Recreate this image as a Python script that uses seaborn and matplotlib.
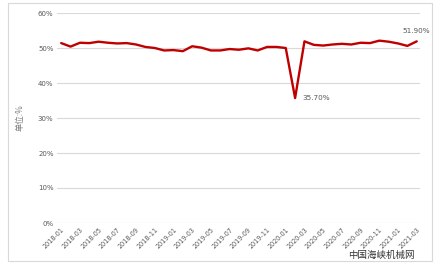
import matplotlib
matplotlib.use("Agg")
import matplotlib.pyplot as plt
import seaborn as sns
import pandas as pd
from matplotlib.patches import Rectangle

months = pd.date_range("2018-01", "2021-03", freq="MS").strftime("%Y-%m").tolist()
values = [51.4, 50.4, 51.5, 51.4, 51.8, 51.5, 51.3, 51.4, 51.0, 50.3,
          50.0, 49.3, 49.4, 49.1, 50.5, 50.1, 49.3, 49.3, 49.7, 49.5,
          49.9, 49.3, 50.3, 50.3, 50.0, 35.7, 51.9, 50.9, 50.7, 51.0,
          51.2, 51.0, 51.5, 51.4, 52.1, 51.8, 51.3, 50.6, 51.9]
yticks = [0, 10, 20, 30, 40, 50, 60]
labeled = {"2020-02": "35.70%", "2021-03": "51.90%"}

df = pd.DataFrame({"month": months, "value": values, "x": range(len(months))})

sns.set_theme(style="white")
plt.rcParams["font.family"] = ["DejaVu Sans", "Noto Sans CJK SC"]

fig = plt.figure(figsize=(4.39, 2.64), dpi=100)
ax = fig.add_axes([57/439, 1-223/264, (420-57)/439, (223-13)/264])

sns.lineplot(data=df, x="x", y="value", ax=ax, color="#C00000", linewidth=1.7)

ax.set_ylim(0, 60)
ax.set_xlim(-0.45, len(months) - 1 + 0.35)
ax.set_yticks(yticks)
ax.set_yticklabels([f"{t}%" for t in yticks], fontsize=5, color="#595959")
ax.set_xticks(df["x"][::2])
ax.set_xticklabels(df["month"][::2], rotation=45, ha="right", rotation_mode="anchor",
                   fontsize=4.7, color="#595959")
ax.tick_params(axis="both", length=0, pad=2.5)
ax.yaxis.grid(True, color="#d9d9d9", linewidth=0.8)
for s in ax.spines.values():
    s.set_visible(False)
ax.set_xlabel("")
ax.set_ylabel("单位:%", fontsize=6, color="#7f7f7f", family=["Noto Sans CJK SC", "DejaVu Sans"])
ax.yaxis.set_label_coords(-0.088, 0.5)

for m, txt in labeled.items():
    i = months.index(m)
    v = values[i]
    if m == "2020-02":
        ax.annotate(txt, (i, v), xytext=(5, 0), textcoords="offset points",
                    ha="left", va="center", fontsize=5.2, color="#595959")
    else:
        ax.annotate(txt, (i, v), xytext=(0, 5), textcoords="offset points",
                    ha="center", va="bottom", fontsize=5.2, color="#595959")

fig.patches.append(Rectangle((8/439, 1-261/264), (432-8)/439, (261-3)/264,
                             transform=fig.transFigure, fill=False,
                             edgecolor="#d9d9d9", linewidth=0.8))
fig.text(381/439, 1-255/264, "中国海峡机械网", ha="center", va="center",
         fontsize=6.8, color="#333333", family=["Noto Sans CJK SC"])

fig.savefig("out.png", dpi=100)
